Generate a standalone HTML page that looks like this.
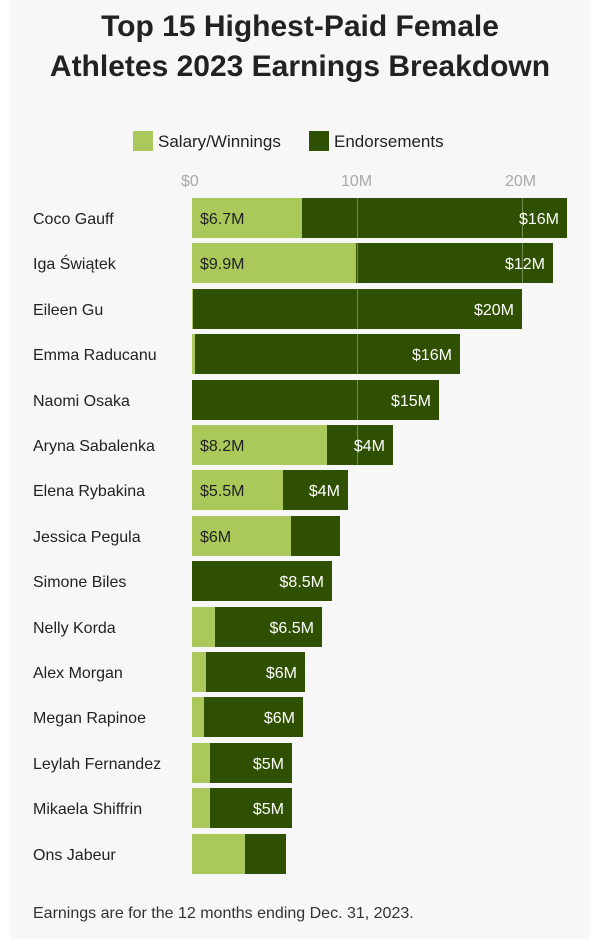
<!DOCTYPE html>
<html><head><meta charset="utf-8"><style>
body{margin:0;background:#fff;font-family:"Liberation Sans",sans-serif;}
#p{position:absolute;left:10px;top:0;width:580px;height:939px;background:#f7f7f7;}
.t{position:absolute;left:0;width:600px;text-align:center;font-weight:bold;font-size:30px;color:#222;}
.a{position:absolute;font-size:16px;color:#222;white-space:nowrap;}
.b{position:absolute;height:40px;}
.l{background:#abc95a}.d{background:#2f5000}
.g{position:absolute;top:195px;width:1px;height:680px;background:rgba(255,255,255,0.35);}
</style></head><body><div id="p"></div>
<div class="t" style="top:10px">Top 15 Highest-Paid Female</div>
<div class="t" style="top:50px">Athletes 2023 Earnings Breakdown</div>
<div style="position:absolute;left:133px;top:131px;width:20px;height:20px;background:#abc95a"></div>
<div class="a" style="left:158px;top:132px;font-size:17px">Salary/Winnings</div>
<div style="position:absolute;left:309px;top:131px;width:20px;height:20px;background:#2f5000"></div>
<div class="a" style="left:334px;top:132px;font-size:17px">Endorsements</div>
<div class="a" style="left:181px;top:173px;color:#aaa">$0</div>
<div class="a" style="left:341px;top:173px;color:#aaa">10M</div>
<div class="a" style="left:505px;top:173px;color:#aaa">20M</div>
<div id="bars"></div>
<div class="a" style="left:33px;top:905px;font-size:16px;color:#333">Earnings are for the 12 months ending Dec. 31, 2023.</div>
<script>
var d=[["Coco Gauff",302,567,"$6.7M","$16M"],["Iga Świątek",356,553,"$9.9M","$12M"],["Eileen Gu",193,522,"","$20M"],["Emma Raducanu",195,460,"","$16M"],["Naomi Osaka",192,439,"","$15M"],["Aryna Sabalenka",327,393,"$8.2M","$4M"],["Elena Rybakina",283,348,"$5.5M","$4M"],["Jessica Pegula",291,340,"$6M",""],["Simone Biles",192,332,"","$8.5M"],["Nelly Korda",215,322,"","$6.5M"],["Alex Morgan",206,305,"","$6M"],["Megan Rapinoe",204,303,"","$6M"],["Leylah Fernandez",210,292,"","$5M"],["Mikaela Shiffrin",210,292,"","$5M"],["Ons Jabeur",245,286,"",""]];
var h="";d.forEach(function(r,i){var c=218+i*45.4,t=c-20;
h+='<div class="a" style="left:33px;top:'+(c-7)+'px">'+r[0]+'</div>';
h+='<div class="b l" style="left:192px;top:'+t+'px;width:'+(r[1]-192)+'px"></div>';
h+='<div class="b d" style="left:'+r[1]+'px;top:'+t+'px;width:'+(r[2]-r[1])+'px"></div>';
if(r[3])h+='<div class="a" style="left:200px;top:'+(c-7)+'px">'+r[3]+'</div>';
if(r[4])h+='<div class="a" style="left:'+(r[2]-108)+'px;width:100px;text-align:right;color:#fff;top:'+(c-7)+'px">'+r[4]+'</div>';});
h+='<div class="g" style="left:357px"></div><div class="g" style="left:522px"></div>';
document.getElementById("bars").innerHTML=h;
</script></body></html>
